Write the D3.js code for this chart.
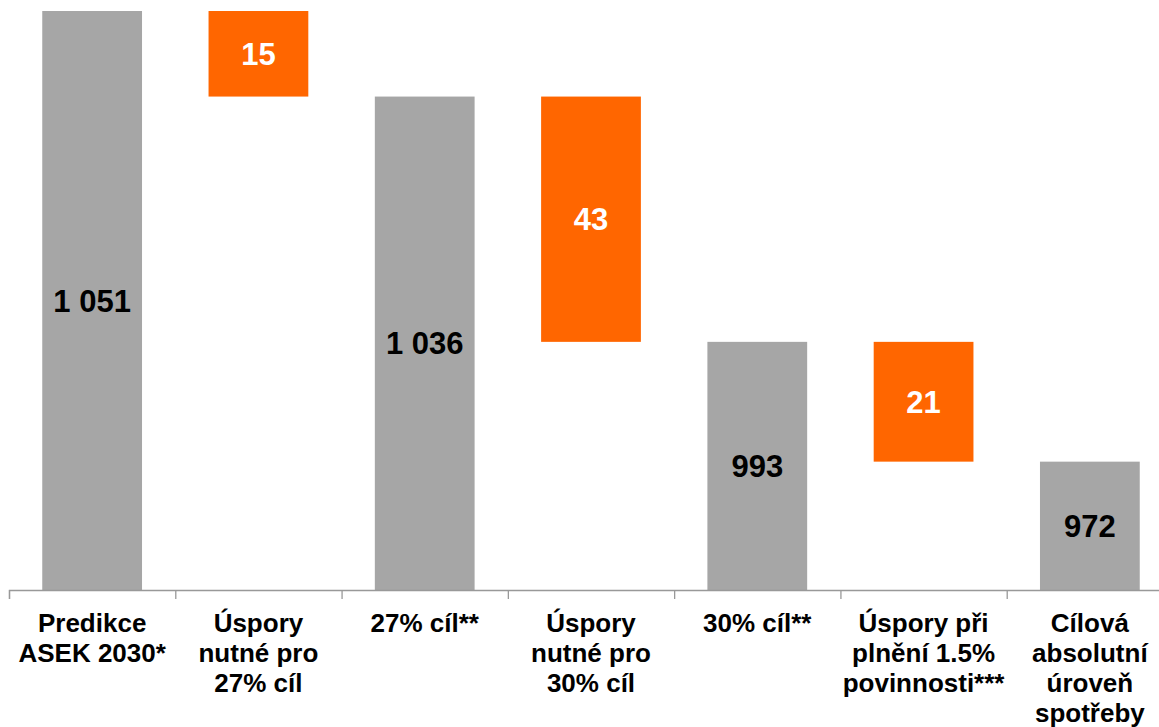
<!DOCTYPE html>
<html>
<head>
<meta charset="utf-8">
<script src="https://cdn.jsdelivr.net/npm/d3@7"></script>
<style>
  body { margin: 0; background: #fff; }
  text { font-family: "Liberation Sans", Arial, sans-serif; font-weight: bold; }
</style>
</head>
<body>
<div id="chart"></div>
<script>
// waterfall data
const categories = [
  ["Predikce", "ASEK 2030*"],
  ["Úspory", "nutné pro", "27% cíl"],
  ["27% cíl**"],
  ["Úspory", "nutné pro", "30% cíl"],
  ["30% cíl**"],
  ["Úspory při", "plnění 1.5%", "povinnosti***"],
  ["Cílová", "absolutní", "úroveň", "spotřeby"]
];
const values = [1051, 15, 1036, 43, 993, 21, 972];
const kinds = ["total", "saving", "total", "saving", "total", "saving", "total"];

const width = 1159;
const height = 727;
const axisY = 590;

const svg = d3.select("#chart")
  .append("svg")
  .attr("width", width)
  .attr("height", height);

// build start/end for each bar
let running = 0;
const bars = values.map((v, i) => {
  let lo, hi;
  if (kinds[i] === "total") {
    lo = null; hi = v; running = v;
  } else {
    hi = running; lo = running - v; running = lo;
  }
  return {i: i, value: v, kind: kinds[i], lo: lo, hi: hi};
});

const xScale = d3.scaleBand()
  .domain(d3.range(categories.length))
  .range([9, 1173])
  .paddingInner(0.4)
  .paddingOuter(0.2);

const yScale = d3.scaleLinear()
  .domain([949.5, 1051])
  .range([axisY, 11]);

const fmt = d3.formatLocale({decimal: ",", thousands: " ", grouping: [3], currency: ["", ""]}).format(",d");

// bars
svg.selectAll(".bar")
  .data(bars)
  .enter()
  .append("rect")
    .attr("class", "bar")
    .attr("x", d => xScale(d.i))
    .attr("y", d => yScale(d.hi))
    .attr("width", xScale.bandwidth())
    .attr("height", d => (d.lo === null ? axisY : yScale(d.lo)) - yScale(d.hi))
    .attr("fill", d => d.kind === "total" ? "#a6a6a6" : "#ff6600");

// value labels
svg.selectAll(".val")
  .data(bars)
  .enter()
  .append("text")
    .attr("class", "val")
    .attr("x", d => xScale(d.i) + xScale.bandwidth() / 2)
    .attr("y", d => ((d.lo === null ? axisY : yScale(d.lo)) + yScale(d.hi)) / 2)
    .attr("dy", "0.36em")
    .attr("text-anchor", "middle")
    .attr("font-size", "31px")
    .attr("fill", d => d.kind === "total" ? "#000" : "#fff")
    .text(d => fmt(d.value));

// axis with ticks at category boundaries
const edgeScale = d3.scaleLinear()
  .domain([0, categories.length])
  .range([9, 1173]);

const axis = svg.append("g")
  .attr("transform", `translate(0,${axisY})`)
  .call(d3.axisBottom(edgeScale)
    .tickValues(d3.range(categories.length + 1))
    .tickSize(9)
    .tickFormat(""));
axis.selectAll("path, line").attr("stroke", "#999").attr("stroke-width", 1.3);

// category labels
const labels = svg.selectAll(".cat")
  .data(categories)
  .enter()
  .append("text")
    .attr("class", "cat")
    .attr("text-anchor", "middle")
    .attr("font-size", "26px")
    .attr("fill", "#000");

labels.selectAll("tspan")
  .data((d, i) => d.map(line => ({line: line, i: i})))
  .enter()
  .append("tspan")
    .attr("x", d => xScale(d.i) + xScale.bandwidth() / 2)
    .attr("y", (d, j) => 632 + j * 30)
    .text(d => d.line);
</script>
</body>
</html>
